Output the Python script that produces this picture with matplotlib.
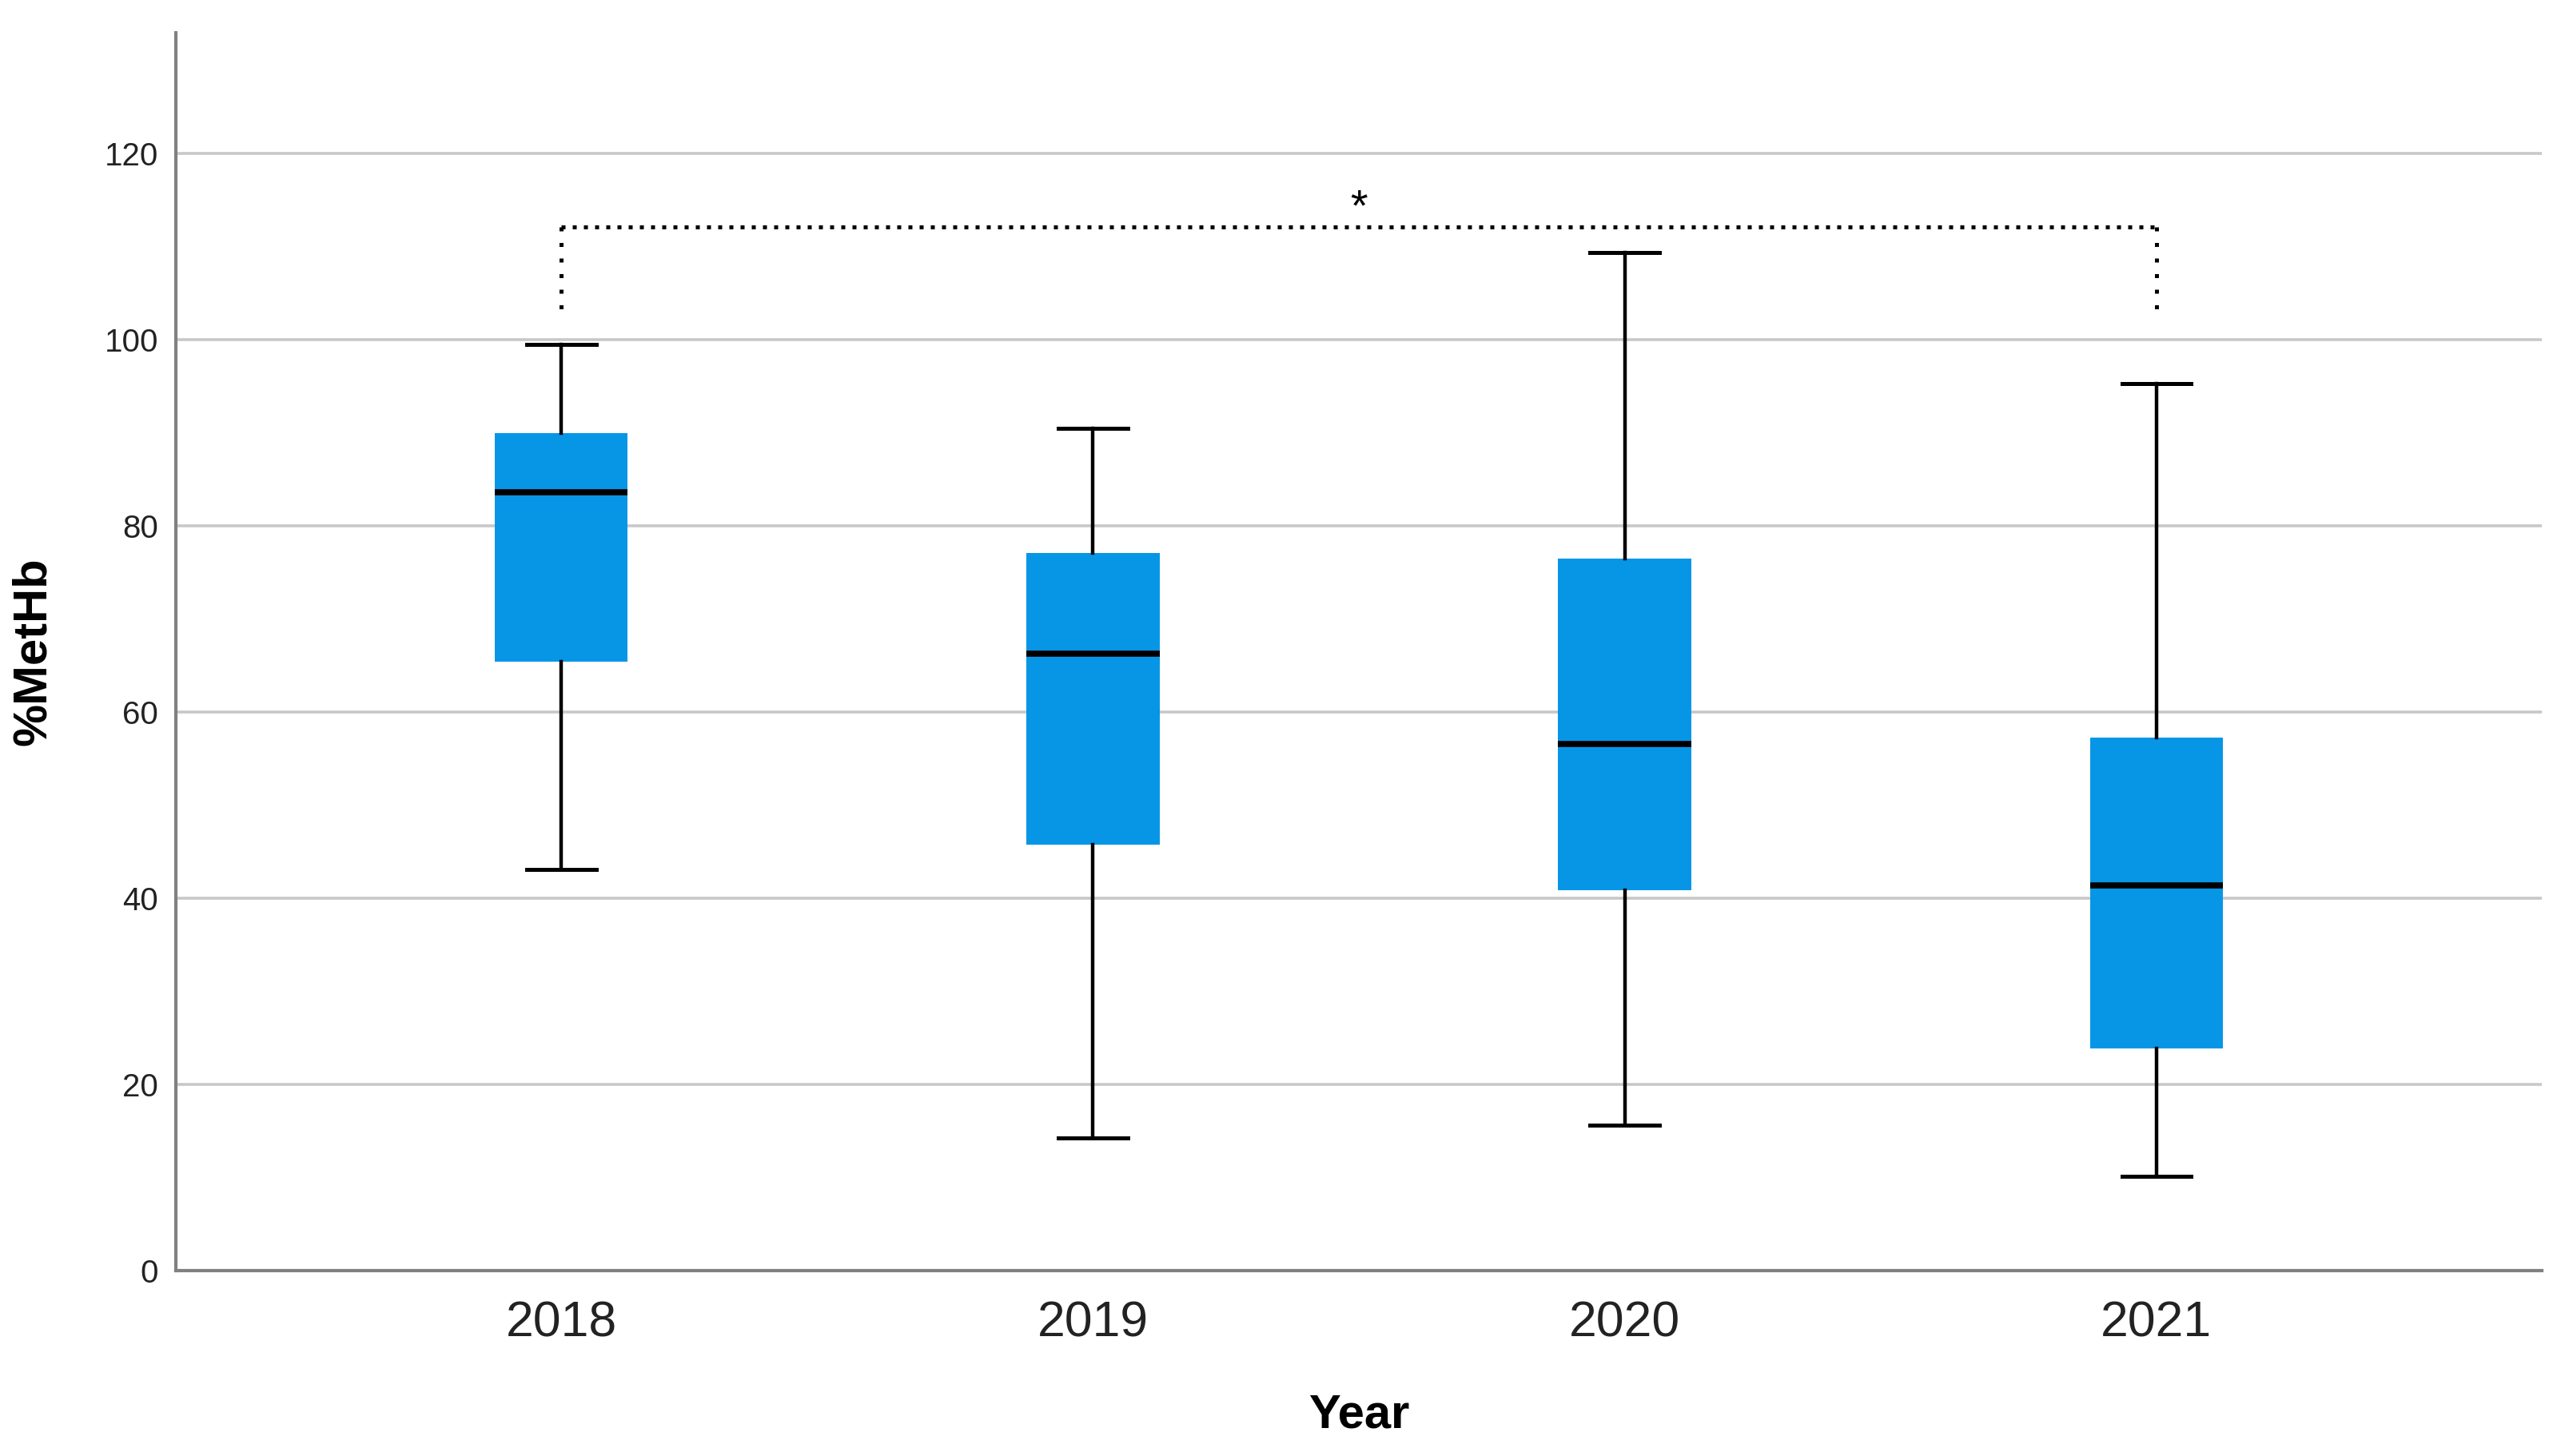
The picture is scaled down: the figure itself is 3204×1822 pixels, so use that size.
import matplotlib
matplotlib.use("Agg")
import matplotlib.pyplot as plt

plt.rcParams['font.family'] = ['Liberation Sans', 'DejaVu Sans']

years = ["2018", "2019", "2020", "2021"]
whisker_low = [43.1, 14.3, 15.6, 10.1]
q1 = [65.4, 45.8, 40.9, 23.9]
median = [83.6, 66.3, 56.6, 41.4]
q3 = [90.0, 77.1, 76.5, 57.3]
whisker_high = [99.5, 90.5, 109.4, 95.3]

yticks = [0, 20, 40, 60, 80, 100, 120]
sig_pair = (0, 3)
sig_label = "*"
sig_y = 112.1
sig_drop = 102.6

box_color = "#0796E6"

fig = plt.figure(figsize=(32.04, 18.22), dpi=100)
ax = fig.add_axes([0.0687, 0.1273, 0.9238, 0.8502])

stats = []
for i, y in enumerate(years):
    stats.append(dict(label=y, whislo=whisker_low[i], q1=q1[i], med=median[i],
                      q3=q3[i], whishi=whisker_high[i], fliers=[]))

ax.bxp(stats, positions=range(len(years)), widths=0.25, patch_artist=True,
       showfliers=False,
       boxprops=dict(facecolor=box_color, edgecolor=box_color, linewidth=0),
       medianprops=dict(color="black", linewidth=5.5, solid_capstyle="butt"),
       whiskerprops=dict(color="black", linewidth=3.2),
       capprops=dict(color="black", linewidth=3.6),
       capwidths=0.13, zorder=3)

ax.set_xlim(-0.725, 3.725)
ax.set_ylim(0, 133)
ax.set_yticks(yticks)
ax.set_xticks(range(len(years)))
ax.set_xticklabels(years)
ax.yaxis.grid(True, color="#c8c8c8", linewidth=2.6, zorder=0)
ax.set_axisbelow(True)

for s in ["top", "right"]:
    ax.spines[s].set_visible(False)
for s in ["left", "bottom"]:
    ax.spines[s].set_color("#808080")
    ax.spines[s].set_linewidth(3)

ax.tick_params(axis="both", length=0)
ax.tick_params(axis="y", labelsize=29, pad=16, colors="#222222")
ax.tick_params(axis="x", labelsize=45, pad=26, colors="#222222")

ax.set_ylabel("%MetHb", fontsize=43, fontweight="bold", labelpad=44)
ax.set_xlabel("Year", fontsize=43, fontweight="bold", labelpad=42)

x0, x1 = sig_pair
ax.plot([x0, x1], [sig_y, sig_y], color="black", linewidth=3.6, dashes=(1, 1.8), zorder=4)
ax.plot([x0, x0], [sig_y, sig_drop], color="black", linewidth=3.6, dashes=(1, 2.9), zorder=4)
ax.plot([x1, x1], [sig_y, sig_drop], color="black", linewidth=3.6, dashes=(1, 2.9), zorder=4)
ax.text((x0 + x1) / 2, sig_y - 0.3, sig_label, ha="center", va="bottom", fontsize=40)

fig.savefig("out.png", dpi=100)
